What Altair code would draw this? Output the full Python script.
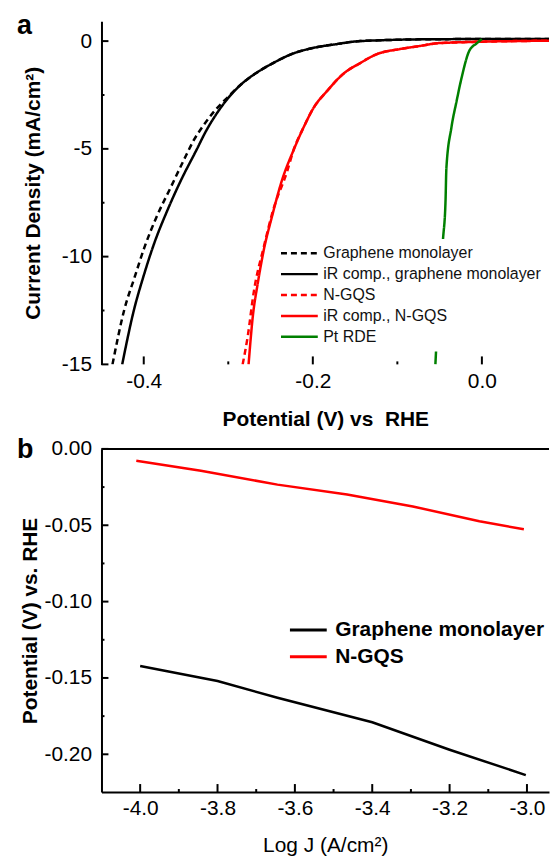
import altair as alt
import pandas as pd

FONT = "Liberation Sans"

# ---------------- panel a data (Potential V vs RHE, current density mA/cm2) ----------------
series_a = ["Graphene monolayer", "iR comp., graphene monolayer", "N-GQS", "iR comp., N-GQS", "Pt RDE"]

gm_dash_V = [-0.437, -0.423, -0.411, -0.399, -0.385, -0.368, -0.350, -0.341, -0.331, -0.316, -0.299,
             -0.284, -0.267, -0.247, -0.225, -0.200, -0.172, -0.144, -0.050, 0.080]
gm_dash_J = [-15.0, -12.46, -10.98, -9.55, -8.17, -6.78, -5.31, -4.61, -4.0, -3.23, -2.54,
             -1.98, -1.48, -1.02, -0.60, -0.32, -0.14, 0.0, 0.09, 0.10]

gm_ir_V = [-0.4255, -0.4115, -0.4005, -0.3875, -0.372, -0.356, -0.338, -0.326, -0.313, -0.298,
           -0.284, -0.267, -0.247, -0.225, -0.200, -0.172, -0.144, -0.050, 0.080]
gm_ir_J = [-15.0, -12.46, -10.94, -9.37, -7.85, -6.46, -5.08, -4.15, -3.32, -2.54,
           -1.98, -1.48, -1.02, -0.60, -0.32, -0.14, 0.0, 0.09, 0.10]

ngqs_dash_V = [-0.283, -0.277, -0.270, -0.258, -0.247, -0.230, -0.223, -0.211, -0.199, -0.183, -0.164, -0.144,
               -0.124, -0.097, -0.074, -0.050, 0.080]
ngqs_dash_J = [-15.0, -13.7, -11.68, -9.55, -7.85, -6.0, -5.08, -4.01, -3.09, -2.31, -1.52, -1.02,
               -0.60, -0.37, -0.23, -0.09, 0.02]

ngqs_ir_V = [-0.276, -0.271, -0.265, -0.258, -0.2485, -0.2365, -0.223, -0.211, -0.199, -0.183, -0.164, -0.144,
             -0.124, -0.097, -0.074, -0.050, 0.080]
ngqs_ir_J = [-15.0, -12.78, -11.21, -9.69, -8.17, -6.46, -5.08, -4.01, -3.09, -2.31, -1.52, -1.02,
             -0.60, -0.37, -0.23, -0.09, 0.02]

pt_V = [-0.055, -0.051, -0.046, -0.043, -0.042, -0.036, -0.030, -0.024, -0.015, -0.006, 0.000]
pt_J = [-15.0, -12.0, -9.2, -7.4, -5.9, -4.0, -2.8, -1.7, -0.46, -0.10, 0.09]

a_ticks_x_major = [-0.4, -0.2, 0.0]
a_ticks_x_minor = [-0.3, -0.1]
a_ticks_y_major = [0, -5, -10, -15]
a_ticks_y_minor = [-2.5, -7.5, -12.5]

# ---------------- panel b data (Tafel) ----------------
series_b = ["Graphene monolayer", "N-GQS"]
tafel_gm_x = [-4.000, -3.800, -3.645, -3.400, -3.200, -3.003]
tafel_gm_y = [-0.1422, -0.1520, -0.1630, -0.1790, -0.1970, -0.2136]
tafel_ngqs_x = [-4.010, -3.843, -3.645, -3.465, -3.295, -3.123, -3.008]
tafel_ngqs_y = [-0.0078, -0.0143, -0.0234, -0.0299, -0.0377, -0.0474, -0.0526]

b_ticks_x_major = [-4.0, -3.8, -3.6, -3.4, -3.2, -3.0]
b_ticks_x_minor = [-3.9, -3.7, -3.5, -3.3, -3.1]
b_ticks_y_major = [0.0, -0.05, -0.10, -0.15, -0.20]
b_ticks_y_minor = [-0.025, -0.075, -0.125, -0.175]

# ---------------- build tables ----------------
rows = []
for name, V, J in zip(series_a, [gm_dash_V, gm_ir_V, ngqs_dash_V, ngqs_ir_V, pt_V],
                      [gm_dash_J, gm_ir_J, ngqs_dash_J, ngqs_ir_J, pt_J]):
    for i, (v, j) in enumerate(zip(V, J)):
        rows.append({"series": name, "V": v, "J": j, "i": i})
df_a = pd.DataFrame(rows)

rows = []
for name, X, Y in zip(series_b, [tafel_gm_x, tafel_ngqs_x], [tafel_gm_y, tafel_ngqs_y]):
    for i, (x, y) in enumerate(zip(X, Y)):
        rows.append({"series": name, "logJ": x, "E": y, "i": i})
df_b = pd.DataFrame(rows)

one = pd.DataFrame({"t": ["a"]})
one_b = pd.DataFrame({"t": ["b"]})

W = 450
H = 345
FIX = "replace(datum.label, '\u2212', '-')"

# ---------------- panel a ----------------
xa_scale = alt.Scale(domain=[-0.45, 0.0794], nice=False, zero=False)
ya_scale = alt.Scale(domain=[-15, 0.92], nice=False, zero=False)

xa_axis = alt.Axis(values=a_ticks_x_major, format=".1f", labelExpr=FIX, ticks=False, domain=False,
                   grid=False, labelFontSize=21, labelPadding=6,
                   title="Potential (V) vs\u00a0 RHE", titleFontSize=21, titleFontWeight="bold",
                   titlePadding=17)
ya_axis = alt.Axis(values=a_ticks_y_major, format="d", labelExpr=FIX, ticks=False, domain=True,
                   domainWidth=2, grid=False, labelFontSize=21, labelPadding=10,
                   title="Current Density (mA/cm\u00b2)", titleFontSize=21, titleFontWeight="bold",
                   titlePadding=18)

legend_a = alt.Legend(title=None, orient="none", legendX=175, legendY=219, fillColor="white",
                      padding=4, symbolType="stroke", symbolSize=1369, symbolStrokeWidth=2.5,
                      labelFont=FONT, labelFontSize=16, labelColor="#111", labelOffset=4,
                      labelLimit=0, clipHeight=20.5, rowPadding=0)

lines_a = alt.Chart(df_a).mark_line(strokeWidth=2.5, clip=True, interpolate="monotone").encode(
    x=alt.X("V:Q", scale=xa_scale, axis=xa_axis),
    y=alt.Y("J:Q", scale=ya_scale, axis=ya_axis),
    color=alt.Color("series:N", scale=alt.Scale(domain=series_a, range=["black", "black", "red", "red", "green"]),
                    legend=legend_a),
    strokeDash=alt.StrokeDash("series:N", scale=alt.Scale(domain=series_a,
                              range=[[6, 4], [1, 0], [6, 4], [1, 0], [1, 0]]), legend=legend_a),
    order="i:Q",
)


def xticks(vals, field, scale, axis, length, h):
    return alt.Chart(pd.DataFrame({field: vals})).mark_rule(strokeWidth=2, color="black").encode(
        x=alt.X(field + ":Q", scale=scale, axis=axis), y=alt.value(h), y2=alt.value(h - length))


def yticks(vals, field, scale, axis, length):
    return alt.Chart(pd.DataFrame({field: vals})).mark_rule(strokeWidth=2, color="black").encode(
        y=alt.Y(field + ":Q", scale=scale, axis=axis), x=alt.value(0), x2=alt.value(length))


label_a = alt.Chart(one).mark_text(font=FONT, fontSize=27, fontWeight="bold", align="left",
                                   baseline="top").encode(
    x=alt.value(-85), y=alt.value(-8), text="t:N")

panel_a = alt.layer(
    lines_a,
    xticks(a_ticks_x_major, "V", xa_scale, xa_axis, 8, H),
    xticks(a_ticks_x_minor, "V", xa_scale, xa_axis, 3, H),
    yticks(a_ticks_y_major, "J", ya_scale, ya_axis, 7),
    yticks(a_ticks_y_minor, "J", ya_scale, ya_axis, 3),
    label_a,
).properties(width=W, height=H)

# ---------------- panel b ----------------
xb_scale = alt.Scale(domain=[-4.1, -2.943], nice=False, zero=False)
yb_scale = alt.Scale(domain=[-0.2247, 0.0], nice=False, zero=False)

xb_axis = alt.Axis(values=b_ticks_x_major, format=".1f", labelExpr=FIX, ticks=False, domain=True,
                   domainWidth=2, grid=False, labelFontSize=21, labelPadding=6,
                   title="Log J (A/cm\u00b2)", titleFontSize=21, titleFontWeight="normal",
                   titlePadding=16)
yb_axis = alt.Axis(values=b_ticks_y_major, format=".2f", labelExpr=FIX, ticks=False, domain=True,
                   domainWidth=2, grid=False, labelFontSize=21, labelPadding=10,
                   title="Potential (V) vs. RHE", titleFontSize=21, titleFontWeight="bold",
                   titlePadding=3)

legend_b = alt.Legend(title=None, orient="none", legendX=188, legendY=168.5,
                      padding=0, symbolType="stroke", symbolSize=1369, symbolStrokeWidth=3,
                      labelFont=FONT, labelFontSize=21, labelFontWeight="bold", labelColor="black",
                      labelOffset=7, labelLimit=0, clipHeight=27, rowPadding=0)

lines_b = alt.Chart(df_b).mark_line(strokeWidth=2.5, clip=True).encode(
    x=alt.X("logJ:Q", scale=xb_scale, axis=xb_axis),
    y=alt.Y("E:Q", scale=yb_scale, axis=yb_axis),
    color=alt.Color("series:N", scale=alt.Scale(domain=series_b, range=["black", "red"]), legend=legend_b),
    order="i:Q",
)

top_line = alt.Chart(one_b).mark_rule(strokeWidth=2, color="black").encode(
    x=alt.value(0), x2=alt.value(W), y=alt.value(0))

label_b = alt.Chart(one_b).mark_text(font=FONT, fontSize=27, fontWeight="bold", align="left",
                                     baseline="top").encode(
    x=alt.value(-85), y=alt.value(-12), text="t:N")

panel_b = alt.layer(
    lines_b,
    top_line,
    xticks(b_ticks_x_major, "logJ", xb_scale, xb_axis, 8, H),
    xticks(b_ticks_x_minor, "logJ", xb_scale, xb_axis, 3, H),
    yticks(b_ticks_y_major, "E", yb_scale, yb_axis, 7),
    yticks(b_ticks_y_minor, "E", yb_scale, yb_axis, 3),
    label_b,
).properties(width=W, height=H)

chart = alt.vconcat(panel_a, panel_b, spacing=7).resolve_scale(
    color="independent", strokeDash="independent"
).properties(
    padding={"left": 9, "top": 2, "right": 0, "bottom": 0}
).configure_view(stroke=None).configure_axis(
    labelFont=FONT, titleFont=FONT, labelColor="black", titleColor="black", domainColor="black"
)

chart.save("out.html", embed_options={"renderer": "svg", "actions": False})
